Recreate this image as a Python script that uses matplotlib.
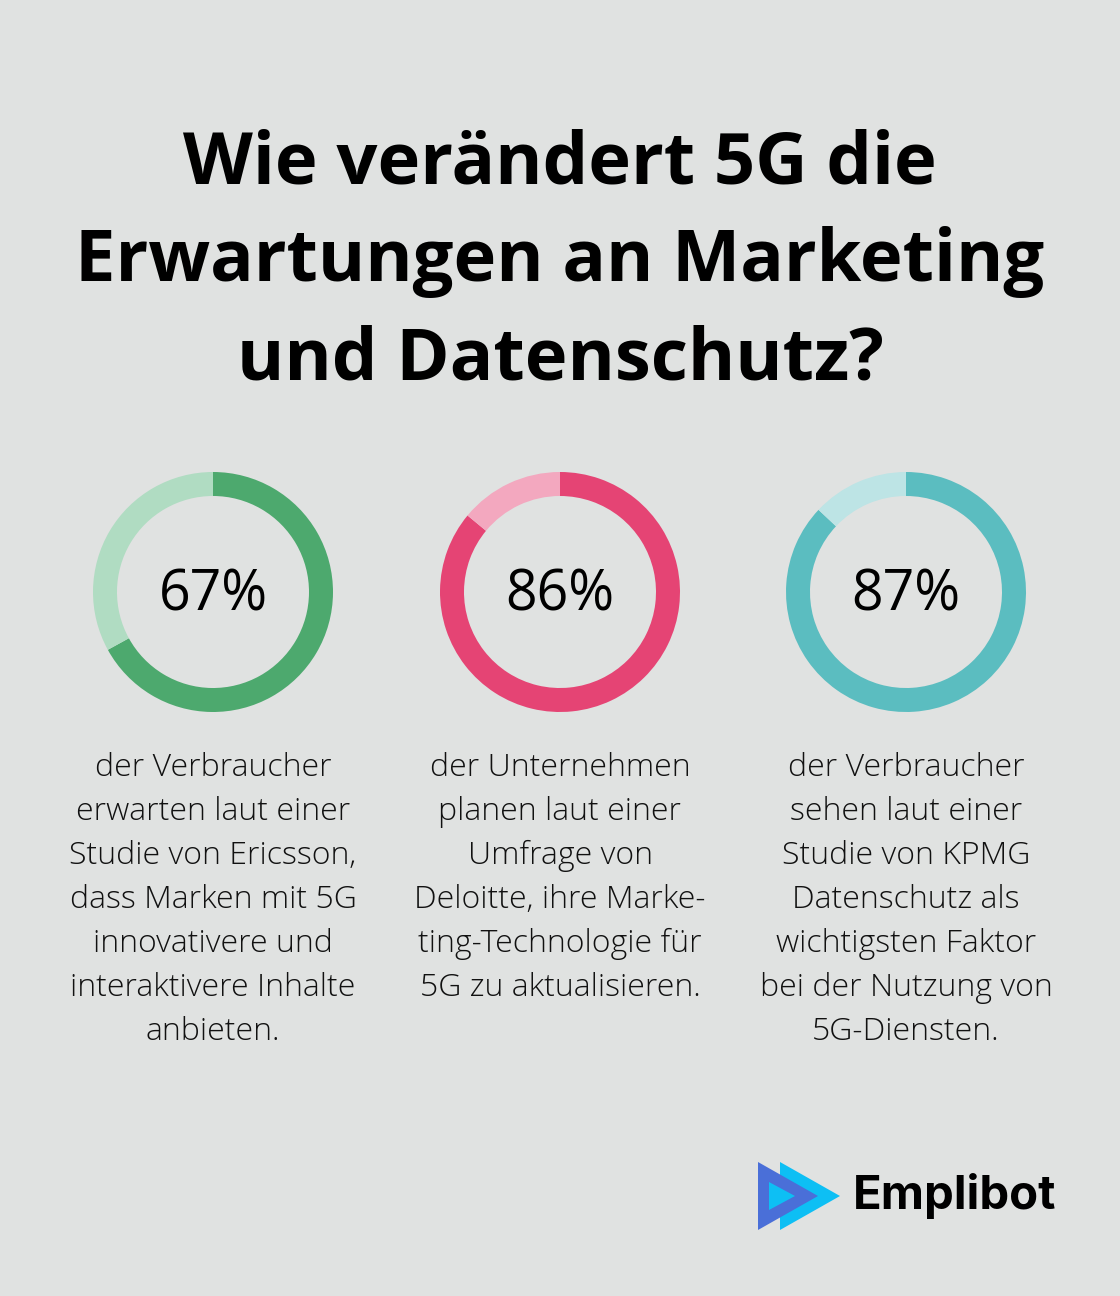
import matplotlib.pyplot as plt
from matplotlib.patches import Polygon

# data
values = [67, 86, 87]
value_labels = ['67%', '86%', '87%']
colors = ['#4DA96E', '#E54474', '#5BBDC0']
light_colors = ['#B0DCC2', '#F3A8BF', '#BDE4E5']
captions = [
    ['der Verbraucher', 'erwarten laut einer', 'Studie von Ericsson,',
     'dass Marken mit 5G', 'innovativere und', 'interaktivere Inhalte', 'anbieten.'],
    ['der Unternehmen', 'planen laut einer', 'Umfrage von',
     'Deloitte, ihre Marke-', 'ting-Technologie für', '5G zu aktualisieren.'],
    ['der Verbraucher', 'sehen laut einer', 'Studie von KPMG',
     'Datenschutz als', 'wichtigsten Faktor', 'bei der Nutzung von', '5G-Diensten.'],
]
title_lines = ['Wie verändert 5G die', 'Erwartungen an Marketing', 'und Datenschutz?']

W, H = 1120, 1296
bg = '#E0E2E1'
fig = plt.figure(figsize=(W / 100, H / 100), dpi=100, facecolor=bg)

def fx(x):
    return x / W

def fy(y):
    return 1 - y / H

# Title
for i, line in enumerate(title_lines):
    fig.text(fx(560), fy(164 + i * 98), line, ha='center', va='center',
             fontsize=52, fontweight='bold', family='Open Sans', color='#000000')

# Donuts
centers = [213, 560, 906]
r = 120
for cx, v, lab, c, lc, cap in zip(centers, values, value_labels, colors, light_colors, captions):
    ax = fig.add_axes([fx(cx - r), fy(592 + r), r * 2 / W, r * 2 / H])
    ax.pie([v, 100 - v], colors=[c, lc], startangle=90, counterclock=False,
           radius=1, wedgeprops=dict(width=0.2, linewidth=0))
    ax.set_xlim(-1, 1)
    ax.set_ylim(-1, 1)
    ax.set_aspect('auto')
    ax.axis('off')
    fig.text(fx(cx), fy(596), lab, ha='center', va='center', fontsize=40,
             fontweight='medium', family='Open Sans', color='#000000')
    for j, line in enumerate(cap):
        fig.text(fx(cx), fy(768 + j * 44), line, ha='center', va='center',
                 fontsize=23, fontweight='light', family='Open Sans', color='#111111')

# Logo
logo_ax = fig.add_axes([0, 0, 1, 1])
logo_ax.set_xlim(0, W)
logo_ax.set_ylim(H, 0)
logo_ax.axis('off')
logo_ax.patch.set_alpha(0)
logo_ax.add_patch(Polygon([[780, 1162], [840, 1196], [780, 1230]], closed=True,
                          facecolor='#0DBFF4', edgecolor='none'))
logo_ax.add_patch(Polygon([[758, 1162], [818, 1196], [758, 1230]], closed=True,
                          facecolor='#4A6FD8', edgecolor='none'))
logo_ax.add_patch(Polygon([[769, 1182], [795, 1196], [769, 1210]], closed=True,
                          facecolor='#0DBFF4', edgecolor='none'))
fig.text(fx(853), fy(1196), 'Emplibot', ha='left', va='center', fontsize=34,
         fontweight='bold', family='Inter', color='#000000')

fig.savefig('out.png', dpi=100, facecolor=bg)
